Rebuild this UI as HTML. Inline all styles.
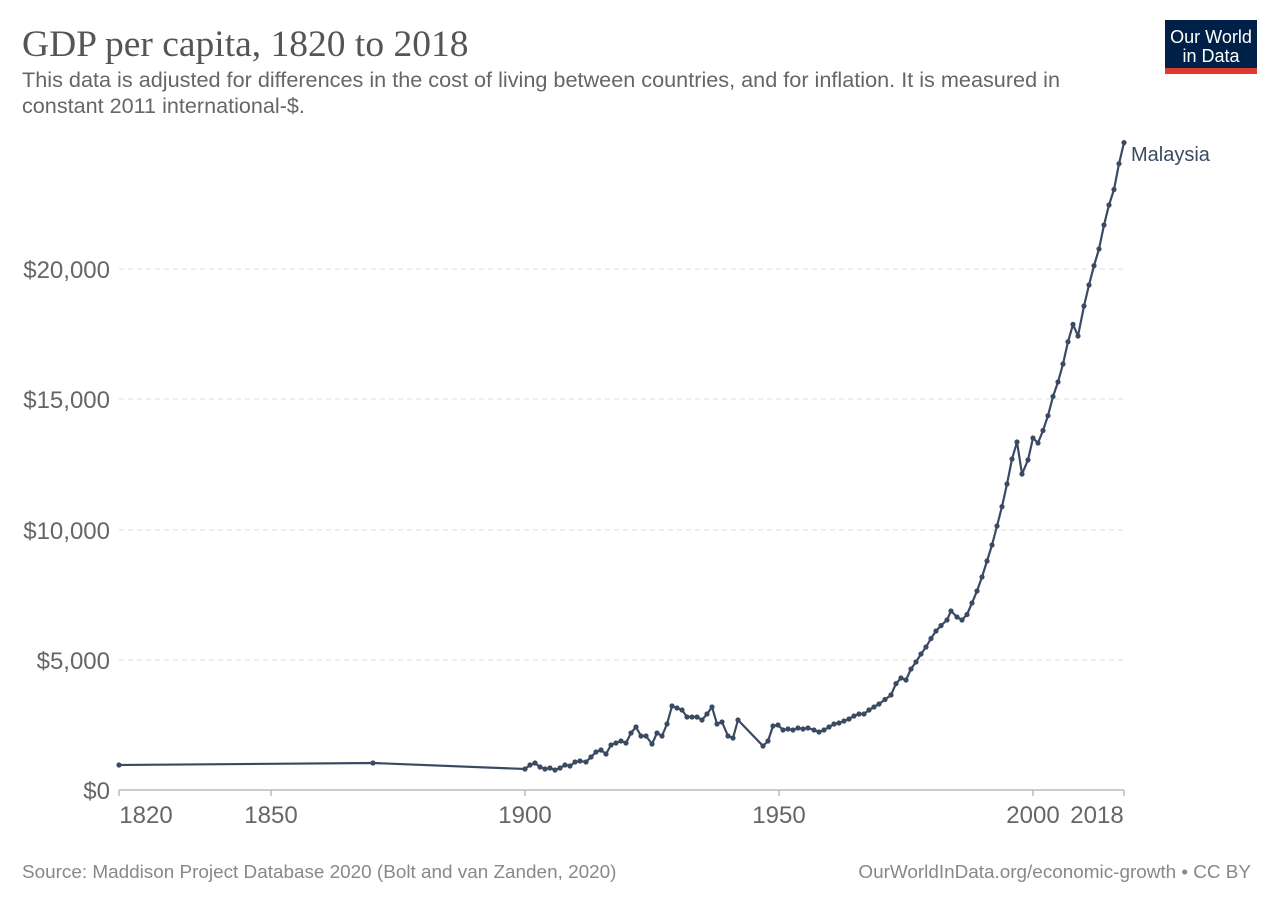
<!DOCTYPE html>
<html><head><meta charset="utf-8"><style>
body{margin:0;background:#fff;width:1280px;height:904px;overflow:hidden}
svg text{font-family:"Liberation Sans",sans-serif}
</style></head><body>
<svg width="1280" height="904" viewBox="0 0 1280 904" xmlns="http://www.w3.org/2000/svg">
<text x="22" y="56" style="font-family:'Liberation Serif',serif" font-size="37.5" fill="#555">GDP per capita, 1820 to 2018</text>
<text x="22" y="87" font-size="21.6" fill="#666" textLength="1038" lengthAdjust="spacingAndGlyphs">This data is adjusted for differences in the cost of living between countries, and for inflation. It is measured in</text>
<text x="22" y="113" font-size="21.6" fill="#666">constant 2011 international-$.</text>
<rect x="1165" y="20" width="92" height="54" fill="#002147"/>
<rect x="1165" y="68" width="92" height="6" fill="#dc3a2e"/>
<text x="1211" y="43" font-size="18" fill="#fff" text-anchor="middle">Our World</text>
<text x="1211" y="62" font-size="18" fill="#fff" text-anchor="middle">in Data</text>
<g stroke="#ddd" stroke-dasharray="5,4" stroke-width="1">
<line x1="119" y1="269" x2="1124" y2="269"/><line x1="119" y1="399" x2="1124" y2="399"/>
<line x1="119" y1="530" x2="1124" y2="530"/><line x1="119" y1="660" x2="1124" y2="660"/>
</g>
<line x1="119" y1="790" x2="1124" y2="790" stroke="#bbb" stroke-width="1.5"/>
<g stroke="#bbb" stroke-width="1.5">
<line x1="119" y1="790" x2="119" y2="796"/><line x1="271" y1="790" x2="271" y2="796"/><line x1="525" y1="790" x2="525" y2="796"/><line x1="779" y1="790" x2="779" y2="796"/><line x1="1033" y1="790" x2="1033" y2="796"/><line x1="1124" y1="790" x2="1124" y2="796"/>
</g>
<g font-size="24" fill="#666">
<g text-anchor="end"><text x="110" y="278">$20,000</text><text x="110" y="408">$15,000</text><text x="110" y="539">$10,000</text><text x="110" y="669">$5,000</text><text x="110" y="799">$0</text></g>
<text x="146" y="823" text-anchor="middle">1820</text><text x="271" y="823" text-anchor="middle">1850</text><text x="525" y="823" text-anchor="middle">1900</text><text x="779" y="823" text-anchor="middle">1950</text><text x="1033" y="823" text-anchor="middle">2000</text><text x="1097" y="823" text-anchor="middle">2018</text>
</g>
<g id="s" fill="#3b4a63" stroke="none"></g>
<polyline id="p" fill="none" stroke="#3b4a63" stroke-width="2.2" stroke-linejoin="round" points=""/>
<text x="1131" y="161" font-size="20" fill="#3b4a63">Malaysia</text>
<text x="22" y="878" font-size="18.9" fill="#888">Source: Maddison Project Database 2020 (Bolt and van Zanden, 2020)</text>
<text x="1251" y="878" font-size="18.9" fill="#888" text-anchor="end">OurWorldInData.org/economic-growth • CC BY</text>
</svg>
<script>
var pts=[[119,765],[373,763],[525,769],[530,765],[535,763],[540,767],[545,769],[550,768],[555,770],[560,768],[565,765],[570,766],[575,762],[580,761],[586,762],[591,757],[596,752],[601,750],[606,754],[611,745],[616,743],[621,741],[626,743],[631,733],[636,727],[641,736],[646,736],[652,744],[657,733],[662,736],[667,724],[672,706],[677,708],[682,710],[687,717],[692,717],[697,717],[702,720],[707,714],[712,707],[717,724],[722,722],[728,736],[733,738],[738,720],[763,746],[768,741],[773,726],[778,725],[783,730],[788,729],[793,730],[798,728],[803,729],[808,728],[814,730],[819,732],[824,730],[829,727],[834,724],[839,723],[844,721],[849,719],[854,716],[859,714],[864,714],[869,710],[874,707],[879,704],[885,699.5],[891,695],[896,683.6],[901,678],[906,680],[911,669],[916,662],[921,654],[926,647],[931,638.5],[936,631],[941,625.6],[947,620],[951,611],[957,617],[962,620],[967,614.5],[972,603],[977,591],[982,577],[987,561],[992,545],[997,526],[1002,506.6],[1007,484],[1012,459],[1017,442],[1022,474],[1028,460],[1033,438],[1038,443],[1043,430.5],[1048,415.7],[1053,396.5],[1058,382],[1063,364],[1068,341.8],[1073,324.4],[1078,336],[1084,306],[1089,285],[1094,265.7],[1099,249],[1104,225],[1109,205],[1114,189.5],[1119,163.7],[1124,142.6]];
document.getElementById('p').setAttribute('points',pts.map(function(p){return p.join(',')}).join(' '));
var g=document.getElementById('s'),ns='http://www.w3.org/2000/svg';
pts.forEach(function(p){var c=document.createElementNS(ns,'circle');c.setAttribute('cx',p[0]);c.setAttribute('cy',p[1]);c.setAttribute('r',2.6);g.appendChild(c);});
</script>
</body></html>
